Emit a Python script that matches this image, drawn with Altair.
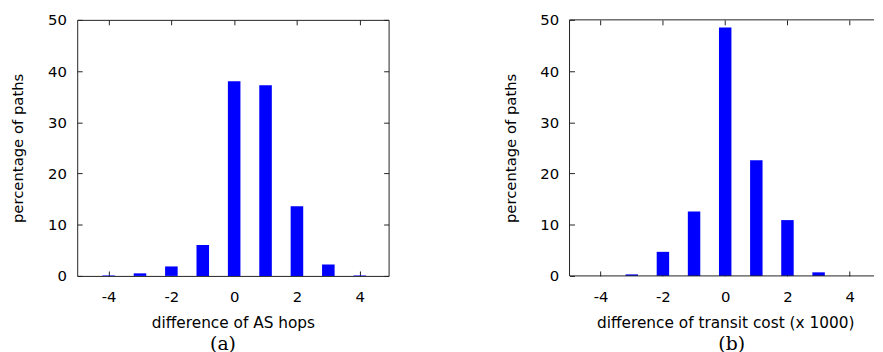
import altair as alt
import pandas as pd

# data
diff = [-4, -3, -2, -1, 0, 1, 2, 3, 4]
hops_pct = [0.1, 0.5, 1.85, 6.05, 38.0, 37.25, 13.6, 2.25, 0.1]
cost_pct = [0.0, 0.3, 4.7, 12.6, 48.5, 22.6, 10.9, 0.7, 0.0]
x_ticks = [-4, -2, 0, 2, 4]
y_ticks = [0, 10, 20, 30, 40, 50]

FONT = "DejaVu Sans"
H = 259
TICK = 5


def panel(values, xtitle, caption, xmax, width, full_frame, title_x, cap_dx):
    df = pd.DataFrame({"d": diff, "v": values})
    base = alt.Chart(df).transform_calculate(lo="datum.d - 0.2", hi="datum.d + 0.2")
    xs = alt.Scale(domain=[-5, xmax], nice=False, zero=False)
    ys = alt.Scale(domain=[0, 50], nice=False)
    common = dict(tickSize=TICK, offset=-TICK, domain=False, grid=False,
                  tickColor="#222222", labelColor="black", labelFont=FONT,
                  labelFontSize=15, titleFont=FONT,
                  titleFontWeight="normal", titleColor="black",
                  labelExpr="'' + datum.value")
    bars = base.mark_bar(color="#0000ff").encode(
        x=alt.X("lo:Q", scale=xs,
                axis=alt.Axis(values=x_ticks, orient="bottom", labelPadding=14,
                              titlePadding=11, title=xtitle, titleX=title_x,
                              titleFontSize=15.5, **common)),
        x2="hi:Q",
        y=alt.Y("v:Q", scale=ys,
                axis=alt.Axis(values=y_ticks, orient="left", labelPadding=11,
                              titlePadding=22, title="percentage of paths",
                              titleFontSize=15, **common)),
        y2=alt.datum(0),
    )
    mirror = base.mark_point(opacity=0).encode(
        x=alt.X("d:Q", scale=xs,
                axis=alt.Axis(values=x_ticks, orient="top", labels=False, title="", **common)),
        y=alt.Y("v:Q", scale=ys,
                axis=alt.Axis(values=y_ticks, orient="right", labels=False, title="",
                              ticks=full_frame, **common)),
    )
    layers = [bars, mirror]
    props = dict(
        width=width, height=H,
        title=alt.TitleParams(caption, orient="bottom", font="DejaVu Serif",
                              fontSize=19, fontWeight="normal", color="black",
                              offset=4, dx=cap_dx),
    )
    if not full_frame:
        one = alt.Chart(pd.DataFrame({"a": [0]}))
        frame_color = "#222222"
        layers += [
            one.mark_rule(color=frame_color, strokeWidth=1).encode(
                x=alt.value(0), x2=alt.value(width), y=alt.value(0)),
            one.mark_rule(color=frame_color, strokeWidth=1).encode(
                x=alt.value(0), y=alt.value(0), y2=alt.value(H)),
            one.mark_rule(color=frame_color, strokeWidth=1).encode(
                x=alt.value(0), x2=alt.value(width), y=alt.value(H)),
        ]
        props["view"] = alt.ViewBackground(stroke="transparent")
    return alt.layer(*layers).resolve_axis(x="independent", y="independent").properties(**props)


left = panel(hops_pct, "difference of AS hops", "(a)", 4.92, 315, True, 157.5, -10)
right = panel(cost_pct, "difference of transit cost (x 1000)", "(b)", 4.78, 308, False, 157.5, 10)

chart = alt.hconcat(left, right, spacing=183, bounds="flush").configure_view(
    stroke="#222222", strokeWidth=1
).properties(padding={"left": 2, "top": 2, "right": 0, "bottom": 0})

chart.save("out.html", embed_options={"renderer": "svg", "actions": False})
